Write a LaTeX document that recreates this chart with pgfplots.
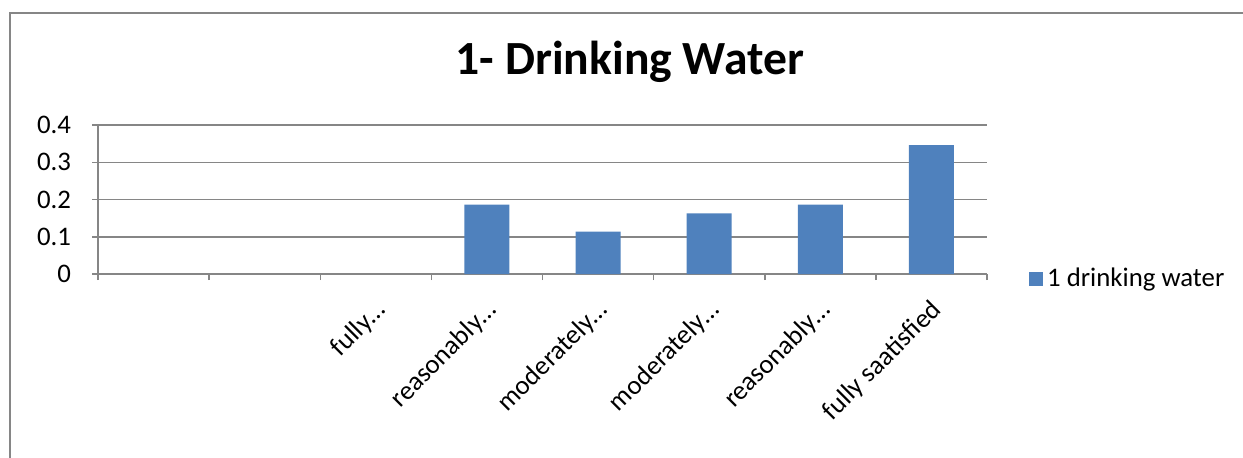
\documentclass[border=0pt]{standalone}
\usepackage{fontspec}
\setmainfont{Carlito}
\usepackage{pgfplots}
\pgfplotsset{compat=1.18}
\definecolor{barblue}{HTML}{4F81BD}
\definecolor{gridgray}{HTML}{868686}
\begin{document}
\begin{tikzpicture}
\useasboundingbox (0pt,0pt) rectangle (621.5pt,228.5pt);
\draw[gridgray,line width=1pt] (5pt,-5pt) -- (5pt,222pt) -- (630pt,222pt);
\node[font=\fontsize{23.8}{28}\selectfont\bfseries, anchor=base, inner sep=0pt] at (315pt,191.5pt) {1- Drinking Water};
\begin{axis}[
  at={(49pt,91.5pt)}, anchor=south west,
  scale only axis, width=444.5pt, height=74.5pt,
  ymin=0, ymax=0.4,
  ytick={0,0.1,0.2,0.3,0.4},
  yticklabels={0,0.1,0.2,0.3,0.4},
  xmin=-0.5, xmax=7.5,
  xtick={0,1,2,3,4,5,6,7},
  xticklabels={,,fully…,reasonably…,moderately…,moderately…,reasonably…,fully saatisfied},
  minor xtick={-0.5,0.5,1.5,2.5,3.5,4.5,5.5,6.5,7.5},
  major x tick style={draw=none},
  tick align=outside,
  major tick length=3pt,
  minor tick length=3pt,
  tick style={gridgray, line width=0.75pt},
  minor tick style={gridgray, line width=0.75pt},
  axis x line*=bottom,
  axis y line*=left,
  axis line style={gridgray, line width=0.75pt, -},
  ymajorgrids,
  major grid style={gridgray, line width=0.75pt},
  ticklabel style={font=\fontsize{13.4}{16}\selectfont},
  /pgf/number format/assume math mode=true,
  yticklabel style={anchor=east, xshift=-7pt},
  xticklabel style={anchor=base east, rotate=45, xshift=-3.6pt, yshift=-14.9pt},
  ybar, bar width=22.5pt,
  legend style={at={(1.047,-0.034)}, anchor=west, draw=none, fill=none, inner sep=0pt,
    font=\fontsize{13.4}{16}\selectfont},
  legend image code/.code={\fill[barblue] (0pt,-3.5pt) rectangle (7pt,3.5pt);},
  clip=false,
]
\addplot[fill=barblue, draw=none] coordinates {(3,0.186) (4,0.114) (5,0.163) (6,0.186) (7,0.346)};
\addlegendentry{1 drinking water}
\end{axis}
\end{tikzpicture}
\end{document}
